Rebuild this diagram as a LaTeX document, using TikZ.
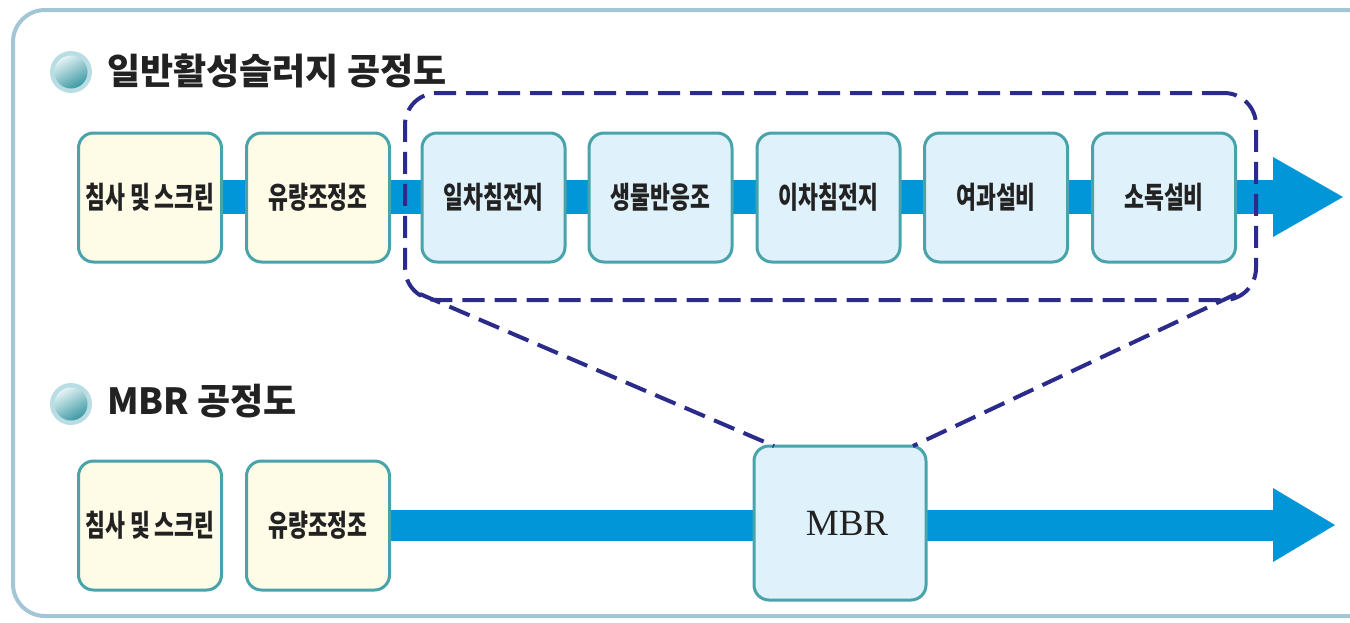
\documentclass[tikz,border=0pt]{standalone}
\usepackage{fontspec}
\usepackage{graphicx}
\newfontfamily\krfont{Noto Sans CJK KR}
\newfontfamily\tmsfont{Liberation Serif}
\definecolor{framecol}{HTML}{A3C6D6}
\definecolor{boxline}{HTML}{48A3AA}
\definecolor{creamfill}{HTML}{FEFBE6}
\definecolor{bluefill}{HTML}{DFF1FA}
\definecolor{bandcol}{HTML}{0096D7}
\definecolor{navy}{HTML}{2B2B8C}
\definecolor{txtcol}{HTML}{222222}
\definecolor{ballring}{HTML}{B9DDE4}
\definecolor{balllight}{HTML}{E4F3F5}
\definecolor{balldark}{HTML}{3C98A3}
\tikzset{
  procbox/.style={draw=boxline, line width=3pt, rounded corners=15pt,
    minimum width=143pt, minimum height=129pt, inner sep=0pt, text=txtcol,
    font=\krfont\bfseries\fontsize{30}{30}\selectfont},
  prebox/.style={procbox, fill=creamfill},
  mainbox/.style={procbox, fill=bluefill},
  band/.style={draw=bandcol, line width=#1},
  headfill/.style={fill=bandcol},
  groupbox/.style={draw=navy, line width=4pt, dash pattern=on 22pt off 10pt,
    rounded corners=32pt, inner sep=0pt},
  zoomline/.style={draw=navy, line width=4pt, dash pattern=on 22pt off 10pt},
  outerframe/.style={draw=framecol, line width=4pt, rounded corners=32pt},
  titletxt/.style={anchor=west, inner sep=0pt, text=txtcol,
    font=\krfont\bfseries\fontsize{36}{36}\selectfont},
}
\newcommand{\cond}[1]{\scalebox{0.72}[1]{#1}}
\newcommand{\bulletball}[1]{%
  \fill[ballring] (#1) circle (21pt);
  \shade[shading=axis, top color=balllight, bottom color=balldark, shading angle=30] (#1) circle (16.5pt);}
\begin{document}
\begin{tikzpicture}[x=1pt,y=-1pt]
\useasboundingbox (0,0) rectangle (1350,622);
\fill[white] (0,0) rectangle (1350,622);
\draw[outerframe] (13,10) rectangle (1382,616);

% titles
\coordinate (bl1) at (71,72);
\coordinate (bl2) at (71,404);
\bulletball{bl1}
\bulletball{bl2}
\node[titletxt] (t1) at (107,71) {일반활성슬러지 공정도};
\node[titletxt] (t2) at (107,401) {MBR 공정도};

% row 1 arrow
\coordinate (h1) at (1273,197);
\coordinate (h1a) at (1273,157);
\coordinate (h1b) at (1343,197);
\coordinate (h1c) at (1273,237);
\coordinate (s1) at (150,197);
\draw[band=34pt] (s1) -- (h1);
\fill[headfill] (h1a) -- (h1b) -- (h1c) -- cycle;

% row 2 arrow
\coordinate (h2) at (1273,525);
\coordinate (h2a) at (1273,488);
\coordinate (h2b) at (1335,525);
\coordinate (h2c) at (1273,562);
\coordinate (s2) at (318,525);
\draw[band=31pt] (s2) -- (h2);
\fill[headfill] (h2a) -- (h2b) -- (h2c) -- cycle;

% row 1 boxes
\node[prebox] (a1) at (150,197.5) {\cond{침사 및 스크린}};
\node[prebox] (a2) at (318,197.5) {\cond{유량조정조}};
\node[mainbox] (a3) at (493.5,197.5) {\cond{일차침전지}};
\node[mainbox] (a4) at (660.5,197.5) {\cond{생물반응조}};
\node[mainbox] (a5) at (828.5,197.5) {\cond{이차침전지}};
\node[mainbox] (a6) at (996,197.5) {\cond{여과설비}};
\node[mainbox] (a7) at (1164,197.5) {\cond{소독설비}};

% row 2 boxes
\node[prebox] (b1) at (150,525.5) {\cond{침사 및 스크린}};
\node[prebox] (b2) at (318,525.5) {\cond{유량조정조}};
\node[mainbox, minimum width=172pt, minimum height=154pt,
  font=\tmsfont\fontsize{37}{37}\selectfont] (mbr) at (840,523) {\hspace{14pt}MBR};

% group frame and zoom lines
\node[groupbox, minimum width=851pt, minimum height=207pt] (grp) at (830.5,196.5) {};
\coordinate (gl) at (420,294);
\coordinate (gr) at (1236,294);
\coordinate (ml) at (774,446);
\coordinate (mr) at (913,446);
\draw[zoomline] (gl) -- (ml);
\draw[zoomline] (gr) -- (mr);
\end{tikzpicture}
\end{document}
